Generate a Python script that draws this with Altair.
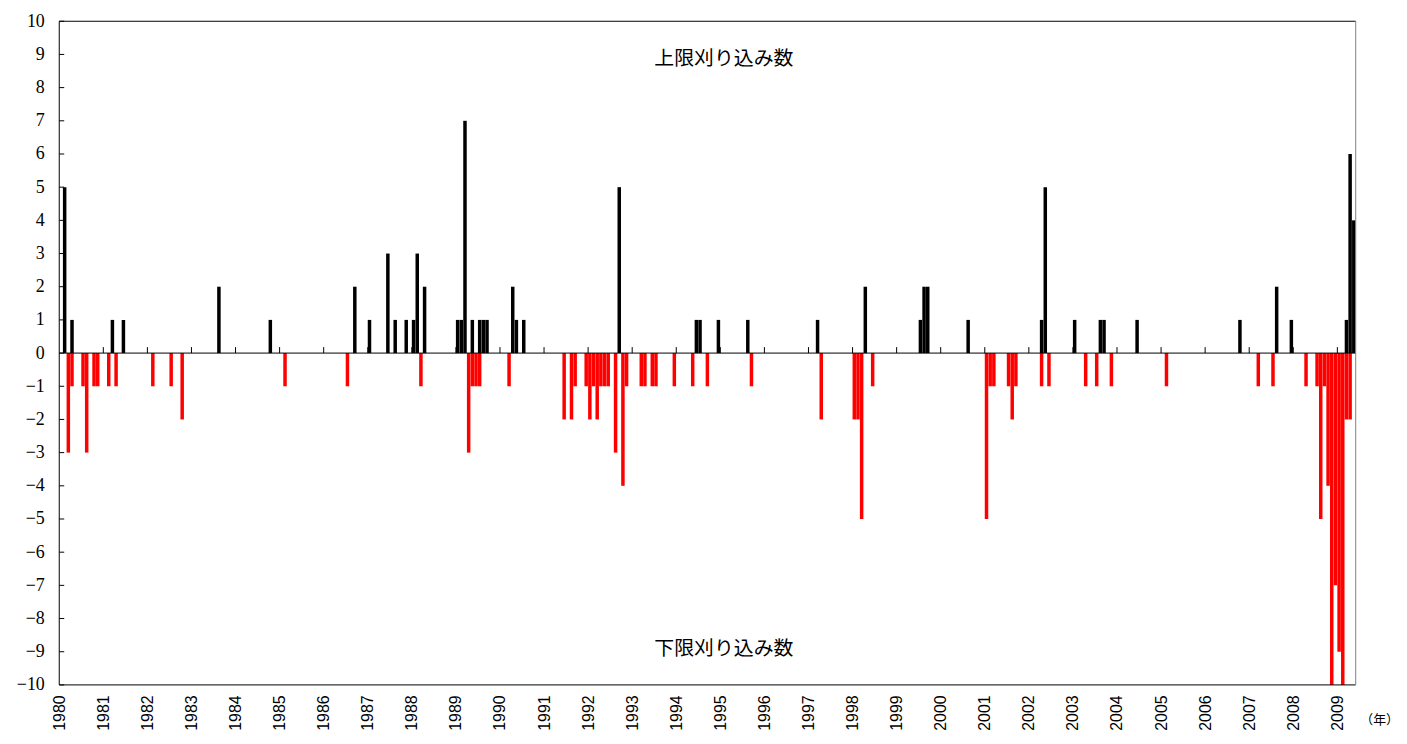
import altair as alt
import pandas as pd

# ---- data (monthly counts, Jan 1980 = month 0) ----
upper_months = ["1980-02", "1980-04", "1981-03", "1981-06", "1983-08", "1984-10",
                "1986-09", "1987-01", "1987-06", "1987-08", "1987-11", "1988-01",
                "1988-02", "1988-04", "1989-01", "1989-02", "1989-03", "1989-05",
                "1989-07", "1989-08", "1989-09", "1990-04", "1990-05", "1990-07",
                "1992-09", "1994-06", "1994-07", "1994-12", "1995-08", "1997-03",
                "1998-04", "1999-07", "1999-08", "1999-09", "2000-08", "2002-04",
                "2002-05", "2003-01", "2003-08", "2003-09", "2004-06", "2006-10",
                "2007-08", "2007-12", "2009-03", "2009-04", "2009-05"]
upper_counts = [5, 1, 1, 1, 2, 1,
                2, 1, 3, 1, 1, 1,
                3, 2, 1, 1, 7, 1,
                1, 1, 1, 2, 1, 1,
                5, 1, 1, 1, 1, 1,
                2, 1, 2, 2, 1, 1,
                5, 1, 1, 1, 1, 1,
                2, 1, 1, 6, 4]

lower_months = ["1980-03", "1980-04", "1980-07", "1980-08", "1980-10", "1980-11",
                "1981-02", "1981-04", "1982-02", "1982-07", "1982-10", "1985-02",
                "1986-07", "1988-03", "1989-04", "1989-05", "1989-06", "1989-07",
                "1990-03", "1991-06", "1991-08", "1991-09", "1991-12", "1992-01",
                "1992-02", "1992-03", "1992-04", "1992-05", "1992-06", "1992-08",
                "1992-10", "1992-11", "1993-03", "1993-04", "1993-06", "1993-07",
                "1993-12", "1994-05", "1994-09", "1995-09", "1997-04", "1998-01",
                "1998-02", "1998-03", "1998-06", "2001-01", "2001-02", "2001-03",
                "2001-07", "2001-08", "2001-09", "2002-04", "2002-06", "2003-04",
                "2003-07", "2003-11", "2005-02", "2007-03", "2007-07", "2008-04",
                "2008-07", "2008-08", "2008-09", "2008-10", "2008-11", "2008-12",
                "2009-01", "2009-02", "2009-03", "2009-04"]
lower_counts = [-3, -1, -1, -3, -1, -1,
                -1, -1, -1, -1, -2, -1,
                -1, -1, -3, -1, -1, -1,
                -1, -2, -2, -1, -1, -2,
                -1, -2, -1, -1, -1, -3,
                -4, -1, -1, -1, -1, -1,
                -1, -1, -1, -1, -2, -2,
                -2, -5, -1, -5, -1, -1,
                -1, -2, -1, -1, -1, -1,
                -1, -1, -1, -1, -1, -1,
                -1, -5, -1, -4, -10, -7,
                -9, -10, -2, -2]

years = list(range(1980, 2010))
y_ticks = list(range(-10, 11))
upper_label = "上限刈り込み数"
lower_label = "下限刈り込み数"
unit_label = "（年）"
n_months = 353


def month_index(s):
    y, m = s.split("-")
    return (int(y) - 1980) * 12 + int(m) - 1


def frame(months, counts, series):
    idx = [month_index(s) for s in months]
    return pd.DataFrame({
        "month": months,
        "start": [i for i in idx],
        "end": [i + 0.95 for i in idx],
        "count": counts,
        "series": series,
    })


bars_df = pd.concat([frame(upper_months, upper_counts, upper_label),
                     frame(lower_months, lower_counts, lower_label)])
year_df = pd.DataFrame({"pos": [(y - 1980) * 12 for y in years[1:]]})
ytick_df = pd.DataFrame({"v": y_ticks})

W, H = 1303, 667
xscale = alt.Scale(domain=[0, n_months], nice=False, zero=False)
yscale = alt.Scale(domain=[-10, 10], nice=False)

xaxis = alt.Axis(values=[(y - 1980) * 12 for y in years],
                 labelExpr="toString(1980 + round(datum.value / 12))",
                 labelAngle=270, labelFont="Liberation Sans", labelFontSize=16,
                 labelColor="#000", labelPadding=10, ticks=False, tickSize=0,
                 domain=False, grid=False, title=None,
                 labelOverlap=False, labelFlush=False)
yaxis = alt.Axis(values=y_ticks, labelFont="Liberation Serif", labelFontSize=18,
                 labelColor="#000", labelPadding=15, ticks=False, tickSize=0,
                 domain=False, grid=False, title=None, labelOverlap=False,
                 labelFlush=False)

bars = alt.Chart(bars_df).mark_bar(stroke=None).encode(
    x=alt.X("start:Q", scale=xscale, axis=xaxis),
    x2="end:Q",
    y=alt.Y("count:Q", scale=yscale, axis=yaxis),
    y2=alt.datum(0),
    color=alt.Color("series:N",
                    scale=alt.Scale(domain=[upper_label, lower_label],
                                    range=["#000000", "#FF0000"]),
                    legend=None),
)

zero_line = alt.Chart(pd.DataFrame({"z": [0]})).mark_rule(
    color="#000", strokeWidth=1).encode(
    y=alt.Y("z:Q", scale=yscale, axis=yaxis),
    x=alt.value(0), x2=alt.value(W),
)

year_ticks = alt.Chart(year_df).mark_rule(color="#000", strokeWidth=1).encode(
    x=alt.X("pos:Q", scale=xscale, axis=xaxis),
    y=alt.Y("base:Q", scale=yscale, axis=yaxis),
    y2="top:Q",
).transform_calculate(base="0", top="0.18")

y_inner_ticks = alt.Chart(ytick_df).mark_rule(color="#000", strokeWidth=1).encode(
    y=alt.Y("v:Q", scale=yscale, axis=yaxis),
    x=alt.value(0), x2=alt.value(5),
)

# plot frame
one = pd.DataFrame({"k": [0]})
frame_top = alt.Chart(one).mark_rule(color="#000", strokeWidth=1).encode(
    x=alt.value(0), x2=alt.value(W), y=alt.value(0))
frame_bottom = alt.Chart(one).mark_rule(color="#000", strokeWidth=1).encode(
    x=alt.value(0), x2=alt.value(W), y=alt.value(H))
frame_left = alt.Chart(one).mark_rule(color="#000", strokeWidth=1).encode(
    x=alt.value(0), y=alt.value(0), y2=alt.value(H))
frame_right = alt.Chart(one).mark_rule(color="#808080", strokeWidth=1).encode(
    x=alt.value(W), y=alt.value(0), y2=alt.value(H))

txt_font = "Noto Sans CJK JP"
upper_text = alt.Chart(pd.DataFrame({"t": [upper_label]})).mark_text(
    font=txt_font, fontSize=20, color="#000", align="center", baseline="middle"
).encode(text="t:N", x=alt.value(668), y=alt.value(38))

lower_text = alt.Chart(pd.DataFrame({"t": [lower_label]})).mark_text(
    font=txt_font, fontSize=20, color="#000", align="center", baseline="middle"
).encode(text="t:N", x=alt.value(668), y=alt.value(631))

unit_text = alt.Chart(pd.DataFrame({"t": [unit_label]})).mark_text(
    font=txt_font, fontSize=13, color="#000", align="center", baseline="middle"
).encode(text="t:N", x=alt.value(1327), y=alt.value(702))

chart = alt.layer(
    bars, zero_line, year_ticks, y_inner_ticks,
    frame_top, frame_bottom, frame_left, frame_right,
    upper_text, lower_text, unit_text
).properties(
    width=W, height=H,
    autosize=alt.AutoSizeParams(type="none"),
    padding={"left": 51.5, "top": 11.5, "right": 43.5, "bottom": 44.5},
).configure(
    background="#ffffff"
).configure_view(
    strokeWidth=0
)

chart.save("out.html", embed_options={"renderer": "svg", "actions": False})
